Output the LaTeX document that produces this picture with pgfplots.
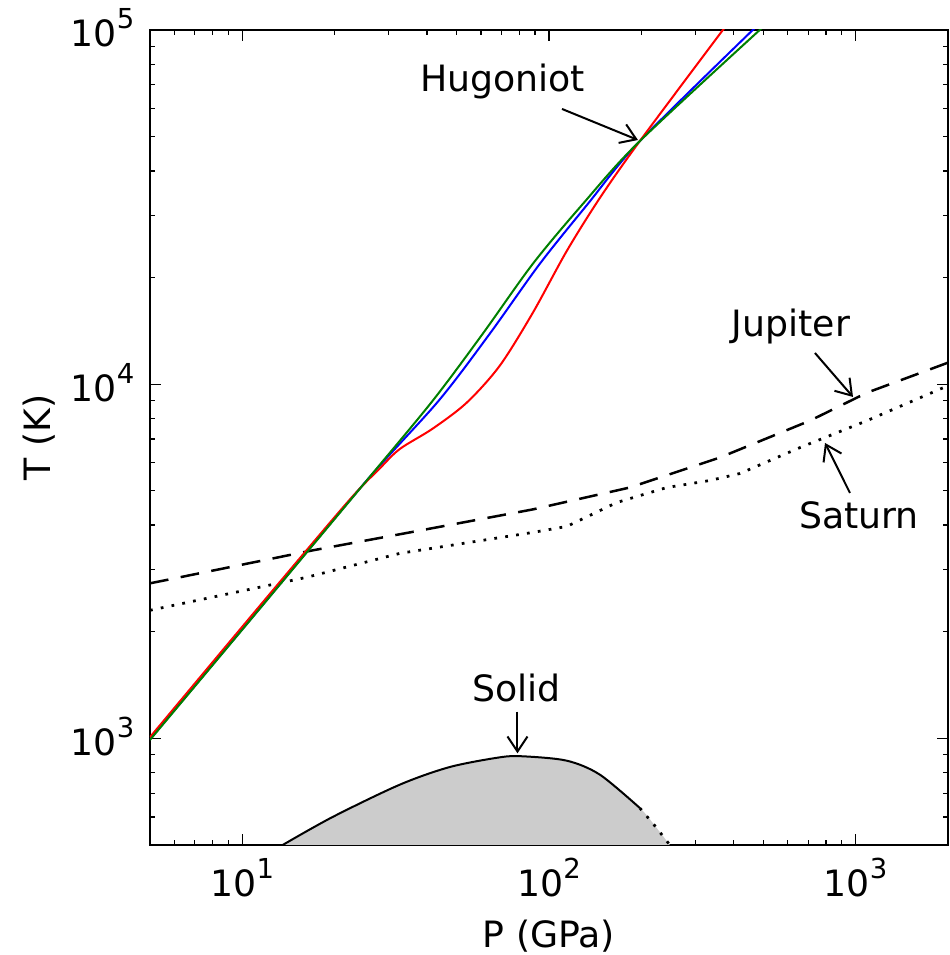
\documentclass[border=0pt]{standalone}
\usepackage{fontspec}
\setmainfont{DejaVu Sans}
\usepackage{pgfplots}
\pgfplotsset{compat=1.18}
\usetikzlibrary{arrows.meta}
\definecolor{mplgreen}{rgb}{0,0.5,0}
\definecolor{solidgray}{rgb}{0.8,0.8,0.8}
\newcommand{\pw}[1]{10\raisebox{7.2pt}{\fontsize{11}{11}\selectfont #1}}
\newcommand{\lfont}{\fontsize{14.5}{17}\selectfont}

\pgfplotstableread{
P T
5 990
11.22 2285
25.44 5346
41.78 8985
60.81 13880
88.53 21860
128.9 32270
197.8 48560
520 105400
}\green

\pgfplotstableread{
P T
5 995
11.22 2290
25.44 5346
43.7 8985
64.1 13880
93.3 21860
133.8 32270
197.8 48560
490 105100
}\blue

\pgfplotstableread{
P T
5 1008
11.22 2328
22.0 4638
28.05 5779
32.61 6560
41.78 7492
53.92 8868
69.1 11275
88.53 15900
114.3 23780
146.5 33550
197.8 48560
390 106600
}\red

\pgfplotstableread{
P T
5 2740
16.96 3395
35.14 3815
88.53 4430
183.5 5108
360.8 6207
709.6 7890
1089 9463
2000 11500
}\jupiter

\pgfplotstableread{
P T
5 2299
16.21 2849
32.61 3329
88.53 3815
114.3 3966
166.4 4634
242.3 5108
334.7 5346
419.3 5595
658.2 6622
1089 7890
2000 9903
}\saturn

\pgfplotstableread{
P T
13.54 500
19.71 600
32.61 740
47.47 830
69.1 884
82.1 890
114.3 865
146.5 790
197.8 636
}\solid

\pgfplotstableread{
P T
197.8 636
222 565
247.8 500
}\soliddot

\pgfplotstableread{
P T
13.54 500
19.71 600
32.61 740
47.47 830
69.1 884
82.1 890
114.3 865
146.5 790
197.8 636
222 565
247.8 500
}\solidfill

\begin{document}
\lfont
\begin{tikzpicture}[font=\lfont]
\begin{axis}[
  name=ax,
  xmode=log, ymode=log,
  scale only axis, width=319.2pt, height=326pt,
  xmin=5, xmax=2000, ymin=500, ymax=100000,
  xtick={10,100,1000}, xticklabels={\pw{1},\pw{2},\pw{3}},
  ytick={1000,10000,100000}, yticklabels={\pw{3},\pw{4},\pw{5}},
  minor xtick={6,7,8,9,20,30,40,50,60,70,80,90,200,300,400,500,600,700,800,900},
  minor ytick={600,700,800,900,2000,3000,4000,5000,6000,7000,8000,9000,20000,30000,40000,50000,60000,70000,80000,90000},
  tick align=inside, tick pos=both,
  major tick length=4.4pt, minor tick length=2pt,
  every tick/.style={black, line width=0.5pt},
  axis line style={line width=0.6pt},
  xticklabel style={anchor=base, inner sep=0pt, yshift=-20.8pt, font=\lfont},
  yticklabel style={anchor=base east, inner sep=0pt, yshift=-6.8pt, xshift=-6pt, font=\lfont},
  xlabel={P (GPa)}, ylabel={T (K)},
  xlabel style={at={(axis description cs:0.5,-0.1252)}, anchor=base, inner sep=0pt, font=\lfont},
  ylabel style={at={(axis description cs:-0.1253,0.5)}, anchor=base, inner sep=0pt, font=\lfont},
  every axis plot/.append style={line join=round},
]
\addplot[fill=solidgray, draw=none, smooth] table[x=P, y=T] {\solidfill};
\addplot[black, line width=0.8pt, smooth] table[x=P, y=T] {\solid};
\addplot[black, line width=1.1pt, dash pattern=on 1.1pt off 3.2pt] table[x=P, y=T] {\soliddot};
\addplot[black, line width=1pt, dash pattern=on 7.5pt off 5pt] table[x=P, y=T] {\jupiter};
\addplot[black, line width=1.1pt, dash pattern=on 1.1pt off 3.3pt] table[x=P, y=T] {\saturn};
\addplot[blue, line width=0.8pt, smooth] table[x=P, y=T] {\blue};
\addplot[red, line width=0.8pt, smooth] table[x=P, y=T] {\red};
\addplot[mplgreen, line width=0.8pt, smooth] table[x=P, y=T] {\green};

\node[anchor=base, inner sep=0pt] at (rel axis cs:0.4417,0.9243) {Hugoniot};
\draw[-{Straight Barb[length=6pt,width=8pt]}, line width=0.8pt] (rel axis cs:0.5163,0.9031) -- (rel axis cs:0.6115,0.8650);
\node[anchor=base, inner sep=0pt] at (rel axis cs:0.8033,0.6233) {Jupiter};
\draw[-{Straight Barb[length=6pt,width=8pt]}, line width=0.8pt] (rel axis cs:0.8333,0.6037) -- (rel axis cs:0.8810,0.5497);
\node[anchor=base, inner sep=0pt] at (rel axis cs:0.8885,0.3886) {Saturn};
\draw[-{Straight Barb[length=6pt,width=8pt]}, line width=0.8pt] (rel axis cs:0.8772,0.4319) -- (rel axis cs:0.8459,0.4933);
\node[anchor=base, inner sep=0pt] at (rel axis cs:0.4593,0.1758) {Solid};
\draw[-{Straight Barb[length=6pt,width=8pt]}, line width=0.8pt] (rel axis cs:0.4605,0.1636) -- (rel axis cs:0.4605,0.1125);
\end{axis}
\pgfresetboundingbox
\path[use as bounding box] ([xshift=-60pt,yshift=-44pt]ax.south west) rectangle ([xshift=0.8pt,yshift=12pt]ax.north east);
\end{tikzpicture}
\end{document}
